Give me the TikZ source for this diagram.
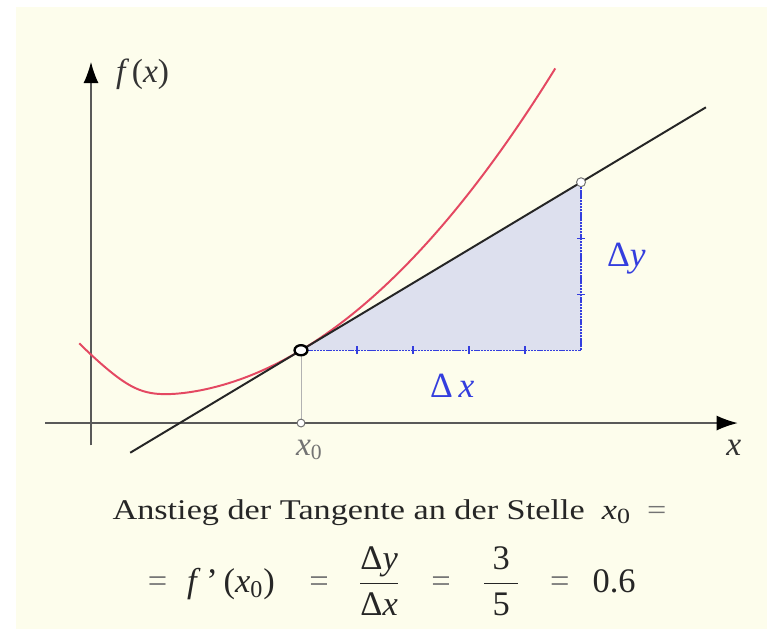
\documentclass[tikz,border=0pt]{standalone}
\usepackage{xcolor}
\usepackage{graphicx}
\usepackage{tikz}
\usetikzlibrary{arrows.meta, positioning, calc, shapes.geometric}
\usepackage{amsmath}
\usepackage{fontspec}
\setmainfont{Liberation Serif}

\definecolor{bgcream}{RGB}{253,253,236}
\definecolor{curvered}{RGB}{228,72,98}
\definecolor{deltablue}{RGB}{52,62,222}
\definecolor{trifill}{RGB}{221,224,238}
\newcommand{\eqs}{\textcolor{black!55}{=}}
\newcommand{\xnull}{\textit{x}\raisebox{-0.3ex}{\fontsize{11}{12}\selectfont 0}}

\begin{document}
\begin{tikzpicture}[
    axis/.style={draw=black!65, line width=0.8pt, -{Latex[black, length=3.8mm, width=2.7mm]}},
    tang/.style={draw=black!85, line width=1pt},
    fcurve/.style={draw=curvered, line width=1pt},
    delta/.style={draw=deltablue, line width=0.6pt, dash pattern=on 1.2pt off 0.4pt},
    tick/.style={draw=deltablue, line width=0.7pt},
    pt/.style={circle, draw=black!55, fill=white, inner sep=0pt, minimum size=1.6mm, line width=0.5pt},
    ptmain/.style={ellipse, draw=black, fill=white, inner sep=0pt, minimum width=2.3mm, minimum height=1.8mm, line width=1.2pt},
    lbl/.style={font=\fontsize{17}{20}\selectfont, text=black!80, inner sep=0pt},
    textline/.style={font=\fontsize{14.5}{17}\selectfont, text=black!85, inner sep=0pt},
    formula/.style={font=\fontsize{17.5}{21}\selectfont, text=black!85, inner sep=0pt},
    dlbl/.style={font=\fontsize{18}{21}\selectfont, text=deltablue, inner sep=0pt}
]
    % Frame
    \useasboundingbox (-1.625,-3.679) rectangle (12.071,7.554);
    \fill[white] (-1.625,-3.679) rectangle (12.071,7.554);
    \fill[bgcream] (-1.339,-3.679) rectangle (12.071,7.429);

    % Points
    \coordinate (p0) at (3.75,1.3);
    \coordinate (p1) at (8.75,4.3);
    \coordinate (corner) at (8.75,1.3);
    \coordinate (foot) at (3.75,0);
    \coordinate (ybot) at (0,-0.4);
    \coordinate (ytop) at (0,6.45);
    \coordinate (xleft) at (-0.82,0);
    \coordinate (xright) at (11.55,0);
    \coordinate (tanA) at (0.7,-0.53);
    \coordinate (tanB) at (10.98,5.638);

    % Triangle
    \fill[trifill] (p0) -- (p1) -- (corner) -- cycle;
    \draw[black!30, line width=0.5pt] (p0) -- (foot);

    % Axes
    \draw[axis] (ybot) -- (ytop);
    \draw[axis] (xleft) -- (xright);

    % Curve and tangent
    \draw[fcurve] plot[domain=-0.21:8.29, samples=120, smooth]
        (\x, {1.3+0.6*(\x-3.75)+0.112*(\x-3.75)^2+0.14*ln(1+exp(max(5*(0.85-\x),-8)))});
    \draw[tang] (tanA) -- (tanB);

    % Delta x, Delta y
    \draw[delta] (p0) -- (corner) -- (p1);
    \foreach \i in {1,...,4}
        \draw[tick] ($(p0)+(\i,-0.07)$) -- ++(0,0.14);
    \foreach \j in {1,2}
        \draw[tick] ($(corner)+(-0.07,\j)$) -- ++(0.14,0);

    \node[ptmain] (P0) at (p0) {};
    \node[pt] (P1) at (p1) {};
    \node[pt, minimum size=1.4mm] (X0) at (foot) {};

    % Labels
    \node[lbl] (fx) at (0.92,6.23) {\textit{f}\kern0.08em(\textit{x})};
    \node[lbl] (xl) at (11.48,-0.45) {\textit{x}};
    \node[lbl, text=black!55] (x0l) at (3.89,-0.48) {\xnull};
    \node[dlbl] (dy) at (9.56,2.93) {Δ\textit{y}};
    \node[dlbl] (dx) at (6.45,0.66) {Δ\,\textit{x}};

    % Formula
    \node[textline, anchor=base] (line1) at (5.33,-1.73)
        {\scalebox{1.2}[1]{Anstieg der Tangente an der Stelle\hspace{0.5em}\xnull\hspace{0.5em}\eqs}};
    \node[formula] (line2) at (5.37,-2.82)
        {\eqs\hspace{0.58em}\textit{f}\,'\,(\textit{x}\textsubscript{0})\hspace{1em}\eqs\hspace{0.85em}$\displaystyle\frac{\mbox{Δ\textit{y}}}{\mbox{Δ\textit{x}}}$\hspace{0.9em}\eqs\hspace{0.9em}$\displaystyle\frac{\mbox{\hspace{0.25em}3\hspace{0.25em}}}{\mbox{5}}$\hspace{0.85em}\eqs\hspace{0.67em}0.6};
\end{tikzpicture}
\end{document}
